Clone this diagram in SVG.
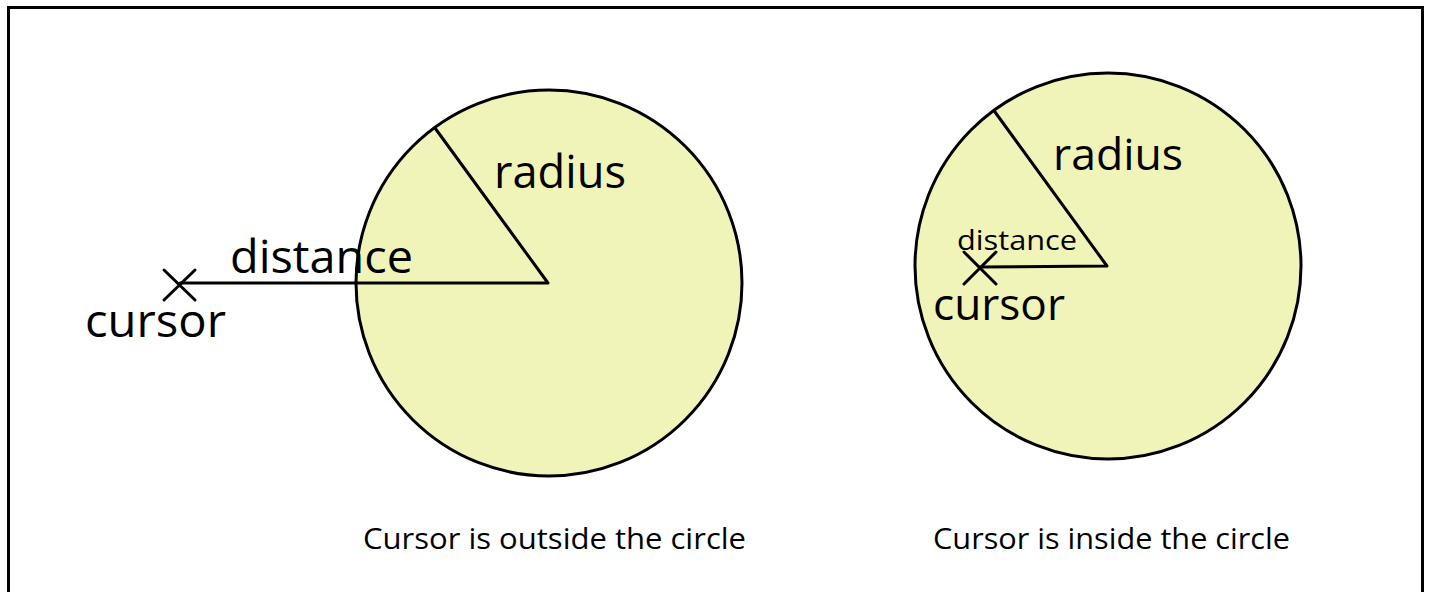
<svg xmlns="http://www.w3.org/2000/svg" width="1429" height="592" viewBox="0 0 1429 592">
<style>
.frame{fill:none;stroke:#000;stroke-width:3}
.disc{fill:#f0f4b8;stroke:#000;stroke-width:3}
.ln{fill:none;stroke:#000;stroke-width:3;stroke-linecap:round;stroke-linejoin:round}
.t{font-family:"Open Sans","Noto Sans",sans-serif;fill:#000}
</style>
<rect width="1429" height="592" fill="#fff"/>
<path class="frame" d="M8.5 600 V7.5 H1422.5 V600"/>
<g id="left-circle">
<circle class="disc" cx="549" cy="283" r="193"/>
</g>
<g id="right-circle">
<circle class="disc" cx="1108" cy="266" r="193"/>
</g>
<g id="connectors">
<path class="ln" d="M435 128 L548 283 L180 283"/>
<path class="ln" d="M995 112 L1107 266 L980 267"/>
</g>
<g id="left-cursor">
<path class="ln" d="M164 270 L195 300 M195 270 L164 300" stroke-linecap="butt"/>
<text class="t" x="85" y="337" font-size="45" textLength="141" lengthAdjust="spacingAndGlyphs">cursor</text>
</g>
<g id="right-cursor">
<path class="ln" d="M964 252 L996 284 M996 252 L964 284" stroke-linecap="butt"/>
<text class="t" x="933" y="320" font-size="44" textLength="132" lengthAdjust="spacingAndGlyphs">cursor</text>
</g>
<g id="labels">
<text class="t" x="494" y="188" font-size="45" textLength="132" lengthAdjust="spacingAndGlyphs">radius</text>
<text class="t" x="230" y="273" font-size="45" textLength="183" lengthAdjust="spacingAndGlyphs">distance</text>
<text class="t" x="1053" y="170" font-size="44" textLength="130" lengthAdjust="spacingAndGlyphs">radius</text>
<text class="t" x="957" y="250" font-size="28" textLength="120" lengthAdjust="spacingAndGlyphs">distance</text>
<text class="t" x="363" y="549" font-size="29" textLength="383" lengthAdjust="spacingAndGlyphs">Cursor is outside the circle</text>
<text class="t" x="933" y="549" font-size="29" textLength="357" lengthAdjust="spacingAndGlyphs">Cursor is inside the circle</text>
</g>
</svg>
